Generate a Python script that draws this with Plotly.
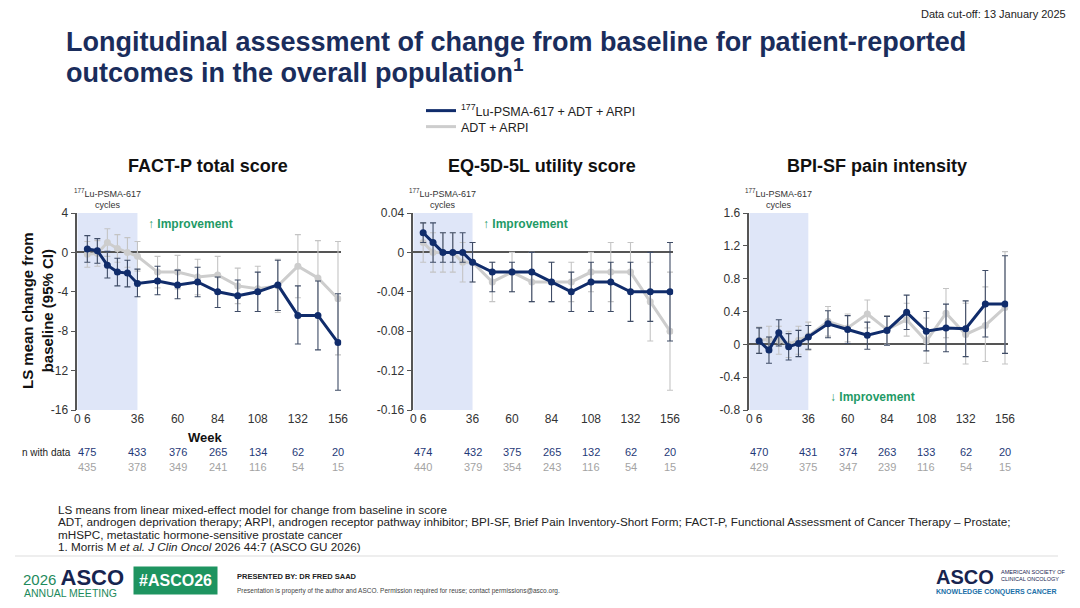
import plotly.graph_objects as go

# weeks of assessment
weeks = [6, 12, 18, 24, 30, 36, 48, 60, 72, 84, 96, 108, 120, 132, 144, 156]
week_ticks = [0, 6, 36, 60, 84, 108, 132, 156]
n_weeks = [6, 36, 60, 84, 108, 132, 156]

# FACT-P total score
factp_lu = [0.34, 0.17, -1.3, -2.0, -2.1, -3.15, -2.9, -3.3, -3.0, -4.0, -4.4, -4.0, -3.3, -6.4, -6.4, -9.15]
factp_lu_lo = [-1.0, -1.1, -2.6, -3.4, -3.5, -4.5, -4.3, -4.7, -4.5, -5.6, -6.0, -6.0, -5.9, -9.3, -9.9, -14.0]
factp_lu_hi = [1.7, 1.4, 0.1, -0.6, -0.8, -1.7, -1.4, -1.8, -1.5, -2.5, -2.8, -2.0, -0.8, -3.4, -2.9, -4.2]
factp_adt = [-0.2, -0.1, 1.0, 0.4, 0.0, -0.4, -2.0, -2.0, -2.5, -2.3, -3.4, -3.7, -3.4, -1.4, -2.6, -4.7]
factp_adt_lo = [-1.5, -1.4, -0.4, -1.0, -1.5, -1.9, -3.6, -3.7, -4.3, -4.2, -5.2, -6.0, -6.1, -4.6, -6.4, -10.4]
factp_adt_hi = [1.1, 1.2, 2.4, 1.8, 1.5, 1.1, -0.4, -0.3, -0.7, -0.4, -1.6, -1.4, -0.7, 1.8, 1.2, 1.1]
factp_n_lu = ["475", "433", "376", "265", "134", "62", "20"]
factp_n_adt = ["435", "378", "349", "241", "116", "54", "15"]

# EQ-5D-5L utility score
eq_lu = [0.02, 0.01, 0.0, 0.0, 0.0, -0.01, -0.02, -0.02, -0.02, -0.03, -0.04, -0.03, -0.03, -0.04, -0.04, -0.04]
eq_lu_lo = [0.01, -0.01, -0.01, -0.01, -0.01, -0.03, -0.04, -0.04, -0.05, -0.05, -0.06, -0.06, -0.06, -0.07, -0.07, -0.09]
eq_lu_hi = [0.03, 0.03, 0.02, 0.02, 0.02, 0.01, -0.01, -0.01, 0.0, -0.01, -0.02, -0.01, -0.01, -0.01, 0.0, 0.01]
eq_adt = [0.01, 0.0, 0.0, 0.0, -0.01, -0.01, -0.03, -0.02, -0.03, -0.03, -0.03, -0.02, -0.02, -0.02, -0.05, -0.08]
eq_adt_lo = [-0.01, -0.02, -0.02, -0.02, -0.03, -0.03, -0.05, -0.04, -0.05, -0.05, -0.05, -0.04, -0.05, -0.04, -0.09, -0.14]
eq_adt_hi = [0.03, 0.02, 0.02, 0.02, 0.01, 0.01, -0.01, 0.0, 0.0, -0.01, -0.01, 0.0, 0.01, 0.01, -0.01, -0.02]
eq_n_lu = ["474", "432", "375", "265", "132", "62", "20"]
eq_n_adt = ["440", "379", "354", "243", "116", "54", "15"]

# BPI-SF pain intensity
bpi_lu = [0.04, -0.07, 0.14, -0.03, 0.01, 0.09, 0.25, 0.18, 0.11, 0.17, 0.39, 0.16, 0.20, 0.19, 0.49, 0.49]
bpi_lu_lo = [-0.11, -0.23, -0.02, -0.19, -0.15, -0.06, 0.08, 0.01, -0.06, -0.01, 0.18, -0.08, -0.09, -0.15, 0.09, -0.11]
bpi_lu_hi = [0.20, 0.09, 0.30, 0.13, 0.17, 0.23, 0.41, 0.35, 0.27, 0.34, 0.60, 0.40, 0.49, 0.53, 0.90, 1.08]
bpi_adt = [0.05, 0.06, 0.05, 0.0, 0.05, 0.10, 0.28, 0.20, 0.37, 0.18, 0.30, 0.04, 0.38, 0.12, 0.23, 0.45]
bpi_adt_lo = [-0.11, -0.10, -0.12, -0.16, -0.12, -0.07, 0.10, 0.03, 0.20, 0.0, 0.10, -0.23, 0.08, -0.24, -0.21, -0.24]
bpi_adt_hi = [0.21, 0.22, 0.22, 0.16, 0.22, 0.27, 0.46, 0.37, 0.54, 0.35, 0.50, 0.32, 0.68, 0.50, 0.70, 1.13]
bpi_n_lu = ["470", "431", "374", "263", "133", "62", "20"]
bpi_n_adt = ["429", "375", "347", "239", "116", "54", "15"]

factp_yticks = [4, 0, -4, -8, -12, -16]
eq_yticks = [0.04, 0, -0.04, -0.08, -0.12, -0.16]
eq_ylabels = ["0.04", "0", "-0.04", "-0.08", "-0.12", "-0.16"]
bpi_yticks = [1.6, 1.2, 0.8, 0.4, 0, -0.4, -0.8]
bpi_ylabels = ["1.6", "1.2", "0.8", "0.4", "0", "-0.4", "-0.8"]

panel_titles = ["FACT-P total score", "EQ-5D-5L utility score", "BPI-SF pain intensity"]

FONT = "Liberation Sans, Arial, sans-serif"
NAVY = "#102c6b"
GREY = "#cdcdcd"
GREEN = "#1f9a66"

# page has an 8px body margin, so the figure is 16px smaller than the window
PAD = 8
FW, FH = 1080 - 2 * PAD, 608 - 2 * PAD


def X(px):
    return (px - PAD) / FW


def Y(py):
    return 1 - (py - PAD) / FH


panels = [
    dict(lu=factp_lu, lu_lo=factp_lu_lo, lu_hi=factp_lu_hi,
         adt=factp_adt, adt_lo=factp_adt_lo, adt_hi=factp_adt_hi,
         n_lu=factp_n_lu, n_adt=factp_n_adt,
         yrange=[-16, 4], yticks=factp_yticks, ylabels=[str(v) for v in factp_yticks],
         px=(77.3, 338.0), up=True),
    dict(lu=eq_lu, lu_lo=eq_lu_lo, lu_hi=eq_lu_hi,
         adt=eq_adt, adt_lo=eq_adt_lo, adt_hi=eq_adt_hi,
         n_lu=eq_n_lu, n_adt=eq_n_adt,
         yrange=[-0.16, 0.04], yticks=eq_yticks, ylabels=eq_ylabels,
         px=(413.3, 670.0), up=True),
    dict(lu=bpi_lu, lu_lo=bpi_lu_lo, lu_hi=bpi_lu_hi,
         adt=bpi_adt, adt_lo=bpi_adt_lo, adt_hi=bpi_adt_hi,
         n_lu=bpi_n_lu, n_adt=bpi_n_adt,
         yrange=[-0.8, 1.6], yticks=bpi_yticks, ylabels=bpi_ylabels,
         px=(749.3, 1005.0), up=False),
]

XMAX = 158
y_dom = [Y(410), Y(213)]

fig = go.Figure()
anns = []
shapes = []


def note(text, x, y, xref="paper", size=12, color="#222", xanchor="center", **kw):
    # x in paper fraction (or data), y given in pixels from the top of the window
    a = dict(xref=xref, yref="paper", x=x, y=Y(y), text=text, showarrow=False,
             xanchor=xanchor, yanchor="middle", font=dict(size=size, color=color))
    a.update(kw)
    anns.append(a)


for i, p in enumerate(panels, start=1):
    xa = "x" if i == 1 else "x%d" % i
    ya = "y" if i == 1 else "y%d" % i
    x0, x156 = p["px"]
    x_end = x0 + (x156 - x0) * XMAX / 156

    for key, color, ecolor in [("adt", GREY, "#c4c4c4"), ("lu", NAVY, "#3f4c66")]:
        m = p[key]
        lo = p[key + "_lo"]
        hi = p[key + "_hi"]
        fig.add_trace(go.Scatter(
            x=weeks, y=m, xaxis=xa, yaxis=ya, mode="lines+markers",
            line=dict(color=color, width=3),
            marker=dict(color=color, size=7),
            error_y=dict(type="data", symmetric=False,
                         array=[h - v for h, v in zip(hi, m)],
                         arrayminus=[v - l for l, v in zip(lo, m)],
                         color=ecolor, thickness=1.1, width=3),
            showlegend=False, hoverinfo="skip"))

    ax = dict(domain=[X(x0), X(x_end)], range=[0, XMAX], anchor=ya,
              tickvals=week_ticks, ticktext=[str(v) for v in week_ticks],
              showline=False, ticks="", showgrid=False, zeroline=False, automargin=False,
              tickfont=dict(size=12, color="#333"))
    ay = dict(domain=y_dom, range=p["yrange"], anchor=xa,
              tickvals=p["yticks"], ticktext=p["ylabels"], automargin=False,
              showline=True, linecolor="#555", linewidth=1.5,
              ticks="outside", ticklen=5, tickcolor="#555", tickwidth=1.2,
              showgrid=False, zeroline=True, zerolinecolor="#555", zerolinewidth=1.5,
              tickfont=dict(size=12, color="#333"))
    fig.update_layout(**{("xaxis" if i == 1 else "xaxis%d" % i): ax,
                         ("yaxis" if i == 1 else "yaxis%d" % i): ay})

    # Lu-PSMA cycles band
    shapes.append(dict(type="rect", xref=xa, yref=ya + " domain", x0=0, x1=36, y0=0, y1=1,
                       fillcolor="#dfe6f8", line=dict(width=0), layer="below"))
    note("<sup>177</sup>Lu-PSMA-617<br>cycles", 18, 198, xref=xa, size=9, color="#333")

    # panel title
    note("<b>%s</b>" % panel_titles[i - 1], X((x0 + x156) / 2), 166, size=18, color="#111")

    # improvement marker
    if p["up"]:
        note("<b>\u2191 Improvement</b>", 41, 224, xref=xa, size=12, color=GREEN, xanchor="left")
    else:
        note("<b>\u2193 Improvement</b>", 48, 397, xref=xa, size=12, color=GREEN, xanchor="left")

    # n with data
    for wk, a, b in zip(n_weeks, p["n_lu"], p["n_adt"]):
        note(a, wk, 452, xref=xa, size=11, color="#1f3a78")
        note(b, wk, 467, xref=xa, size=11, color="#a3a3a3")

# legend entries, one legend each so the rows sit where the reference has them
fig.add_trace(go.Scatter(x=[None], y=[None], mode="lines", line=dict(color=NAVY, width=3),
                         name="<sup>177</sup>Lu-PSMA-617 + ADT + ARPI", legend="legend"))
fig.add_trace(go.Scatter(x=[None], y=[None], mode="lines", line=dict(color=GREY, width=3),
                         name="ADT + ARPI", legend="legend2"))

note("Data cut-off: 13 January 2025", X(1068), 14, size=11, xanchor="right")
note("<b>Longitudinal assessment of change from baseline for patient-reported</b>",
     X(64), 42, size=27, color="#1a2d5c", xanchor="left")
note("<b>outcomes in the overall population<sup>1</sup></b>",
     X(64), 71, size=27, color="#1a2d5c", xanchor="left")
note("<b>LS mean change from<br>baseline (95% CI)</b>", X(37), 311, size=15, color="#111",
     textangle=-90)
note("<b>Week</b>", X(205), 437, size=13, color="#111")
note("n with data", X(20), 452, size=10, xanchor="left")

foot_lines = [
    "LS means from linear mixed-effect model for change from baseline in score",
    "ADT, androgen deprivation therapy; ARPI, androgen receptor pathway inhibitor; "
    "BPI-SF, Brief Pain Inventory-Short Form; FACT-P, Functional Assessment of Cancer Therapy \u2013 Prostate;",
    "mHSPC, metastatic hormone-sensitive prostate cancer",
    "1. Morris M <i>et al. J Clin Oncol</i> 2026 44:7 (ASCO GU 2026)",
]
for k, line in enumerate(foot_lines):
    note(line, X(56), 509 + 12.6 * k, size=11.7, xanchor="left")

# footer
note("<span style='font-size:15px;color:#1e8a5c'>2026 </span><b>ASCO</b>", X(21), 577,
     size=22, color="#17244f", xanchor="left")
note("ANNUAL MEETING", X(22), 593, size=10.5, color="#1e8a5c", xanchor="left")
note("<b>#ASCO26</b>", X(175), 580, size=16, color="white", bgcolor="#1e9460", borderpad=5)
note("<b>PRESENTED BY: DR FRED SAAD</b>", X(235), 576, size=7.5, xanchor="left")
note("Presentation is property of the author and ASCO. Permission required for reuse; contact permissions@asco.org.",
     X(235), 591, size=6.5, color="#444", xanchor="left")
note("<b>ASCO</b>", X(934), 577, size=20, color="#17244f", xanchor="left")
note("AMERICAN SOCIETY OF<br>CLINICAL ONCOLOGY", X(999), 575, size=5.5, color="#17244f",
     xanchor="left", align="left")
note("<b>KNOWLEDGE CONQUERS CANCER</b>", X(934), 592, size=7, color="#2170a8", xanchor="left")

shapes.append(dict(type="line", xref="paper", yref="paper", x0=X(15), x1=X(1058),
                   y0=Y(556), y1=Y(556), line=dict(color="#dddddd", width=1)))

leg = dict(xanchor="left", yanchor="middle", font=dict(size=12.5, color="#222"),
           itemwidth=30, bgcolor="rgba(0,0,0,0)")
fig.update_layout(
    width=FW, height=FH, margin=dict(l=0, r=0, t=0, b=0, autoexpand=False),
    paper_bgcolor="white", plot_bgcolor="rgba(0,0,0,0)",
    font=dict(family=FONT, color="#222"),
    showlegend=True,
    legend=dict(leg, x=X(421), y=Y(111)),
    legend2=dict(leg, x=X(421), y=Y(127)),
    annotations=anns, shapes=shapes,
)

fig.write_html("out.html")
